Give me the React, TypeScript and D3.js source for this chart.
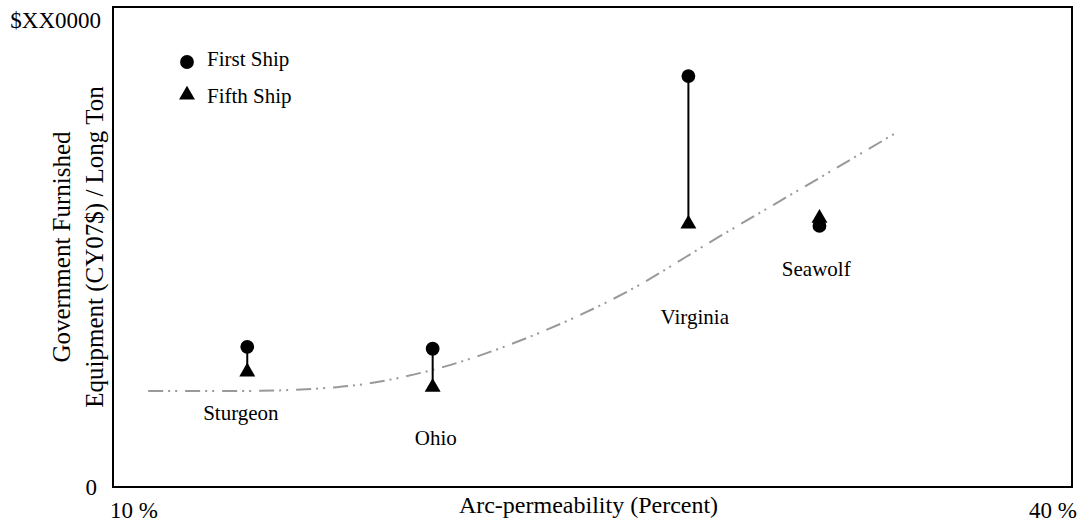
import React from 'react';
import * as d3 from 'd3';

// ships (x = arc-permeability %, y = GFE cost index)
const ships = ['Sturgeon', 'Ohio', 'Virginia', 'Seawolf'];
const shipX = [14.2, 20.0, 28.0, 32.1];
const firstShip = [29.2, 28.8, 85.6, 54.4];
const fifthShip = [24.0, 20.8, 54.8, 56.0];

// label anchor positions (in data units) for ship names
const labelX = [14.0, 20.1, 28.2, 32.0];
const labelY = [14.0, 8.8, 34.0, 44.0];

// trend line
const trendX = [11.1, 14, 17, 20, 23, 26, 29, 32, 34.6];
const trendY = [20.0, 20.0, 20.8, 24.4, 31.2, 40.4, 52.3, 64.0, 74.2];

const xTickLabels = ['10 %', '40 %'];
const yTickLabels = ['0', '$XX0000'];

const W = 1079, H = 523;
const margin = { top: 7, right: 7, bottom: 36, left: 113 };
const FONT = '"Liberation Serif", "Times New Roman", Times, serif';

export default function App() {
  const x = d3.scaleLinear().domain([10, 40]).range([margin.left, W - margin.right]);
  const y = d3.scaleLinear().domain([0, 100]).range([H - margin.bottom, margin.top]);

  const line = d3.line<number>()
    .x((d, i) => x(trendX[i]))
    .y((d) => y(d))
    .curve(d3.curveMonotoneX);

  const circle = d3.symbol().type(d3.symbolCircle).size(150)();
  const tri = d3.symbol().type(d3.symbolTriangle).size(110)();
  const txt = { fontFamily: FONT };

  return (
    <svg width={W} height={H} style={{ display: 'block', position: 'absolute', left: 0, top: 0 }}>
      <rect x={0} y={0} width={W} height={H} fill="#fff" />

      {/* trend */}
      <path d={line(trendY) || ''} fill="none" stroke="#999" strokeWidth={2}
        strokeDasharray="15,5,2,5,2,8" />

      {/* first -> fifth ship lines and markers */}
      {ships.map((s, i) => (
        <g key={s}>
          <line x1={x(shipX[i])} x2={x(shipX[i])} y1={y(firstShip[i])} y2={y(fifthShip[i])}
            stroke="#000" strokeWidth={2} />
          <path d={circle} transform={`translate(${x(shipX[i])},${y(firstShip[i])})`} fill="#000" />
          <path d={tri} transform={`translate(${x(shipX[i])},${y(fifthShip[i])})`} fill="#000" />
          <text x={x(labelX[i])} y={y(labelY[i])} textAnchor="middle" fontSize={21} style={txt}>{s}</text>
        </g>
      ))}

      {/* frame */}
      <rect x={margin.left} y={margin.top} width={W - margin.left - margin.right}
        height={H - margin.top - margin.bottom} fill="none" stroke="#000" strokeWidth={2} />

      {/* legend */}
      <path d={circle} transform="translate(187,62)" fill="#000" />
      <text x={207} y={66} fontSize={21} style={txt}>First Ship</text>
      <path d={tri} transform="translate(187,95)" fill="#000" />
      <text x={207} y={103} fontSize={21} style={txt}>Fifth Ship</text>

      {/* axis labels */}
      <text x={97} y={y(0) + 8} textAnchor="end" fontSize={23} style={txt}>{yTickLabels[0]}</text>
      <text x={101} y={28} textAnchor="end" fontSize={23} style={txt}>{yTickLabels[1]}</text>
      <text x={110} y={518} fontSize={23} style={txt}>{xTickLabels[0]}</text>
      <text x={1077} y={518} textAnchor="end" fontSize={23} style={txt}>{xTickLabels[1]}</text>

      <text x={(x(10) + x(40)) / 2 - 4} y={513} textAnchor="middle" fontSize={24} style={txt}>Arc-permeability (Percent)</text>
      <text transform="translate(70,247) rotate(-90)" textAnchor="middle" fontSize={25} style={txt}>Government Furnished</text>
      <text transform="translate(103,247) rotate(-90)" textAnchor="middle" fontSize={25} style={txt}>Equipment (CY07$) / Long Ton</text>
    </svg>
  );
}
